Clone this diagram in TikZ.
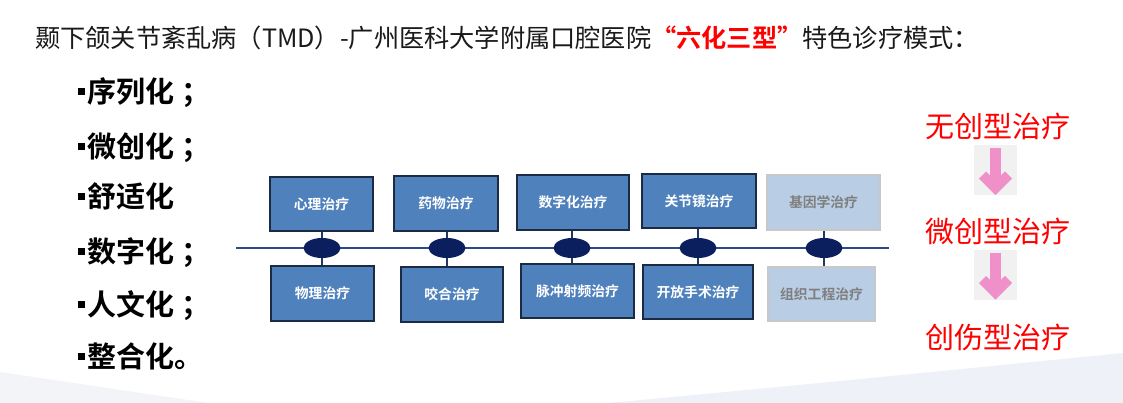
\documentclass[tikz,border=0pt]{standalone}
\usepackage{fontspec}
\setmainfont[BoldFont={Noto Sans CJK SC Bold}]{Noto Sans CJK SC}
\usetikzlibrary{calc,shapes.geometric}
\definecolor{titlegray}{HTML}{1A1A1A}
\definecolor{boxblue}{HTML}{4F81BD}
\definecolor{boxedge}{HTML}{1B2A45}
\definecolor{lightbox}{HTML}{B9CDE5}
\definecolor{lightedge}{HTML}{C8C8C8}
\definecolor{lighttext}{HTML}{7F7F7F}
\definecolor{navy}{HTML}{0B1F5E}
\definecolor{axis}{HTML}{2E4A8B}
\definecolor{linkc}{HTML}{1F3864}
\definecolor{pinkarr}{HTML}{F090C8}
\definecolor{arrbg}{HTML}{F1F1F1}
\definecolor{swooshA}{HTML}{F2F4F7}
\definecolor{swooshB}{HTML}{EEF2F8}
\definecolor{redtxt}{HTML}{FF0000}
\tikzset{
  darkbox/.style={draw=boxedge, line width=1.4pt, fill=boxblue, text=white,
    font=\bfseries\fontsize{13.8}{15}\selectfont, inner sep=0pt},
  palebox/.style={draw=lightedge, line width=1.4pt, fill=lightbox, text=lighttext,
    font=\bfseries\fontsize{13.8}{15}\selectfont, inner sep=0pt},
  hub/.style={ellipse, fill=navy, minimum width=37pt, minimum height=20pt, inner sep=0pt},
  axisline/.style={draw=axis, line width=1.6pt},
  link/.style={draw=linkc, line width=1.6pt},
  listitem/.style={anchor=base west, inner sep=0pt, font=\bfseries\fontsize{29}{32}\selectfont, text=black},
  redline/.style={anchor=base, inner sep=0pt, font=\fontsize{29}{32}\selectfont, text=redtxt},
}
\newcommand{\blt}{\raisebox{7.5pt}{\rule{7pt}{7pt}}\kern2pt}
\newcommand{\semi}{\kern7pt；}
\newcommand{\pinkdown}[1]{%
  \begin{scope}[shift={#1}]
    \fill[arrbg] (-21.5,-25) rectangle (21.5,25);
    \draw[pinkarr, line width=11pt] (0,-22) -- (0,12);
    \draw[pinkarr, line width=10pt, line join=miter] (-13,5) -- (0,18) -- (13,5);
  \end{scope}}
\begin{document}
\begin{tikzpicture}[x=1pt,y=-1pt]
\useasboundingbox (0,0) rectangle (1123,403);
\fill[white] (0,0) rectangle (1123,403);
% background swooshes
\fill[swooshA] (0,372) -- (208,403) -- (0,403) -- cycle;
\fill[swooshB] (609,403) .. controls (800,385) .. (1123,353) -- (1123,403) -- cycle;

% title
\node[anchor=base west, inner sep=0pt, text=titlegray, font=\fontsize{25.2}{28}\selectfont] (title) at (35,48)
  {颞下颌关节紊乱病（TMD）-广州医科大学附属口腔医院{\color{redtxt}\bfseries “六化三型”}特色诊疗模式：};

% list
\node[listitem] (l1) at (78,103) {\blt 序列化\semi};
\node[listitem] (l2) at (78,158) {\blt 微创化\semi};
\node[listitem] (l3) at (78,208) {\blt 舒适化};
\node[listitem] (l4) at (78,262) {\blt 数字化\semi};
\node[listitem] (l5) at (78,315) {\blt 人文化\semi};
\node[listitem] (l6) at (78,367) {\blt 整合化。};

% axis
\coordinate (L0) at (236,248);
\coordinate (L1) at (889,248);
\draw[axisline] (L0) -- (L1);

% boxes
\node[darkbox, minimum width=103pt, minimum height=54pt] (A1) at (321.5,204) {心理治疗};
\node[darkbox, minimum width=104pt, minimum height=55pt] (A2) at (446,203.5) {药物治疗};
\node[darkbox, minimum width=112pt, minimum height=55pt] (A3) at (573,202.5) {数字化治疗};
\node[darkbox, minimum width=114pt, minimum height=54pt] (A4) at (699,201) {关节镜治疗};
\node[palebox, minimum width=113pt, minimum height=55pt] (A5) at (823.5,202.5) {基因学治疗};
\node[darkbox, minimum width=103pt, minimum height=55pt] (B1) at (322.5,293.5) {物理治疗};
\node[darkbox, minimum width=102pt, minimum height=55pt] (B2) at (452,294.5) {咬合治疗};
\node[darkbox, minimum width=113pt, minimum height=54pt] (B3) at (577.5,291) {脉冲射频治疗};
\node[darkbox, minimum width=110pt, minimum height=54pt] (B4) at (698,292) {开放手术治疗};
\node[palebox, minimum width=107pt, minimum height=54pt] (B5) at (821.5,294) {组织工程治疗};

% hubs and links
\foreach \i/\x in {1/322,2/447,3/572,4/698,5/824}{
  \coordinate (E\i) at (\x,248);
  \draw[link] (E\i) -- (E\i |- A\i.south);
  \draw[link] (E\i) -- (E\i |- B\i.north);
  \node[hub] (H\i) at (E\i) {};
}

% right column
\node[redline] (R1) at (998,138) {无创型治疗};
\node[redline] (R2) at (998,243) {微创型治疗};
\node[redline] (R3) at (998,348) {创伤型治疗};
\pinkdown{($(R1.base)+(-2.5,32)$)}
\pinkdown{($(R2.base)+(-2.5,31.5)$)}
\end{tikzpicture}
\end{document}
